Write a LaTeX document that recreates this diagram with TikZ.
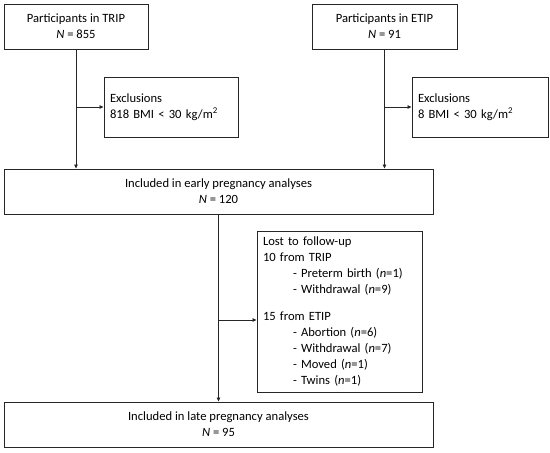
\documentclass[tikz,border=0pt]{standalone}
\usepackage{fontspec}
\setmainfont{Carlito}
\usetikzlibrary{arrows.meta}
\begin{document}
\begin{tikzpicture}[x=1pt,y=-1pt,
  box/.style={draw=black!85,line width=0.9pt,inner sep=0pt,font=\fontsize{12.6}{16}\selectfont},
  cbox/.style={box,align=center},
  lbox/.style={box,align=left,text width=#1},
  arr/.style={draw=black!85,line width=0.8pt,-{Triangle[length=4pt,width=3.5pt]}},
  ln/.style={draw=black!85,line width=0.8pt}]
\useasboundingbox (0,0) rectangle (550,453);
\node[cbox,minimum width=144pt,minimum height=45pt] (trip) at (76,26.5) {Participants in TRIP\\\textit{N} = 855};
\node[cbox,minimum width=145pt,minimum height=45pt] (etip) at (384.5,26.5) {Participants in ETIP\\\textit{N} = 91};
\node[lbox=122pt,minimum width=134pt,minimum height=60pt] (exl) at (171,107) {Exclusions\\818 BMI {<} 30 kg/m\textsuperscript{2}};
\node[lbox=124pt,minimum width=136pt,minimum height=60pt] (exr) at (480,107) {Exclusions\\8 BMI {<} 30 kg/m\textsuperscript{2}};
\node[cbox,minimum width=429pt,minimum height=45pt] (early) at (218.5,191.5) {Included in early pregnancy analyses\\\textit{N} = 120};
\node[lbox=153pt,minimum width=165pt,minimum height=161pt] (lost) at (339.5,311.5) {Lost to follow-up\\10 from TRIP\\\hspace*{30pt}- Preterm birth (\textit{n}=1)\\\hspace*{30pt}- Withdrawal (\textit{n}=9)\\[11pt]15 from ETIP\\\hspace*{30pt}- Abortion (\textit{n}=6)\\\hspace*{30pt}- Withdrawal (\textit{n}=7)\\\hspace*{30pt}- Moved (\textit{n}=1)\\\hspace*{30pt}- Twins (\textit{n}=1)};
\node[cbox,minimum width=429pt,minimum height=45pt] (late) at (218.5,424.5) {Included in late pregnancy analyses\\\textit{N} = 95};
\coordinate (bl) at (trip.south |- exl.west);
\coordinate (br) at (etip.south |- exr.west);
\coordinate (lin) at ([yshift=-8.5pt]lost.west);
\coordinate (bm) at (early.south |- lin);
\draw[arr] (trip.south) -- (trip.south |- early.north);
\draw[arr] (etip.south) -- (etip.south |- early.north);
\draw[arr] (bl) -- (exl.west);
\draw[arr] (br) -- (exr.west);
\draw[arr] (early.south) -- (late.north);
\draw[arr] (bm) -- (lin);
\end{tikzpicture}
\end{document}
